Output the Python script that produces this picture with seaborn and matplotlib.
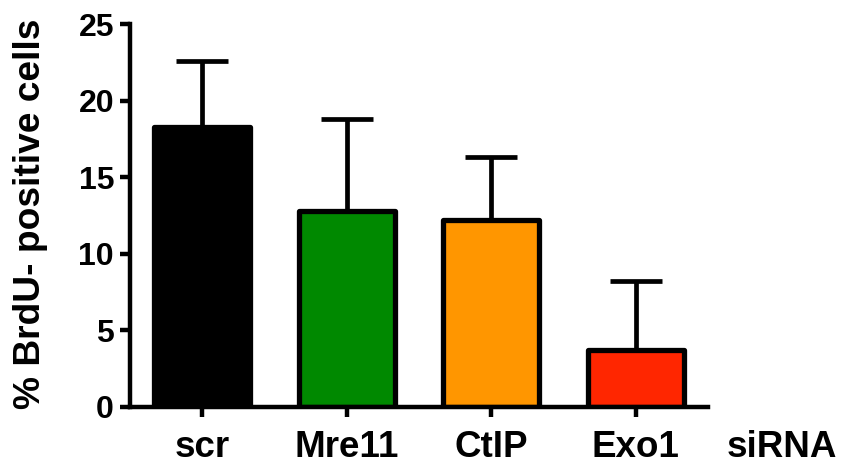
import matplotlib
matplotlib.use("Agg")
import matplotlib.pyplot as plt
import seaborn as sns
import pandas as pd

# Percentage of BrdU-positive cells after siRNA knockdown (mean and upper SD)
conditions = ["scr", "Mre11", "CtIP", "Exo1"]
mean_pct = [18.3, 12.8, 12.2, 3.7]
sd_pct = [4.3, 6.0, 4.1, 4.5]
bar_colors = ["#000000", "#008900", "#FF9600", "#FF2600"]
y_ticks = [0, 5, 10, 15, 20, 25]

sns.set_theme(style="ticks")
plt.rcParams["font.family"] = ["Liberation Sans", "DejaVu Sans"]
plt.rcParams["font.weight"] = "bold"

df = pd.DataFrame({"condition": conditions, "pct": mean_pct})

fig = plt.figure(figsize=(8.44, 4.66), dpi=100)
ax = fig.add_axes([130 / 844, 1 - 407 / 466, 578 / 844, 383 / 466])

lw = 3.8
sns.barplot(data=df, x="condition", y="pct", hue="condition",
            palette=bar_colors, saturation=1, legend=False, width=0.665,
            edgecolor="black", linewidth=lw, ax=ax, zorder=3)
for patch in ax.patches:
    patch.set_joinstyle("round")

# upward-only error bars
ax.errorbar(range(len(conditions)), mean_pct,
            yerr=[[0] * len(sd_pct), sd_pct], fmt="none",
            ecolor="black", elinewidth=3.4, capsize=18.5, capthick=3.4,
            zorder=2, solid_capstyle="round")

ax.set_xlim(-0.5, len(conditions) - 0.5)
ax.set_ylim(0, 25)
ax.set_yticks(y_ticks)
ax.set_xlabel("")
ax.set_ylabel("")

for side in ("top", "right"):
    ax.spines[side].set_visible(False)
for side in ("left", "bottom"):
    ax.spines[side].set_linewidth(3.2)
    ax.spines[side].set_color("black")
    ax.spines[side].set_zorder(4)

ax.tick_params(axis="y", direction="out", length=7.5, width=3.2,
               labelsize=23, pad=4, colors="black")
ax.tick_params(axis="x", direction="out", length=7.5, width=3.2,
               labelsize=26.5, pad=9, colors="black")
for lab in ax.get_xticklabels() + ax.get_yticklabels():
    lab.set_fontweight("bold")

ax.text(1.033, -0.107, "siRNA", transform=ax.transAxes, ha="left",
        va="center", fontsize=26.5, fontweight="bold", color="black")

fig.text(31 / 844, 1 - 214 / 466, "% BrdU- positive cells", rotation=90,
         ha="center", va="center", fontsize=26.7, fontweight="bold",
         color="black")

fig.savefig("out.png", dpi=100)
